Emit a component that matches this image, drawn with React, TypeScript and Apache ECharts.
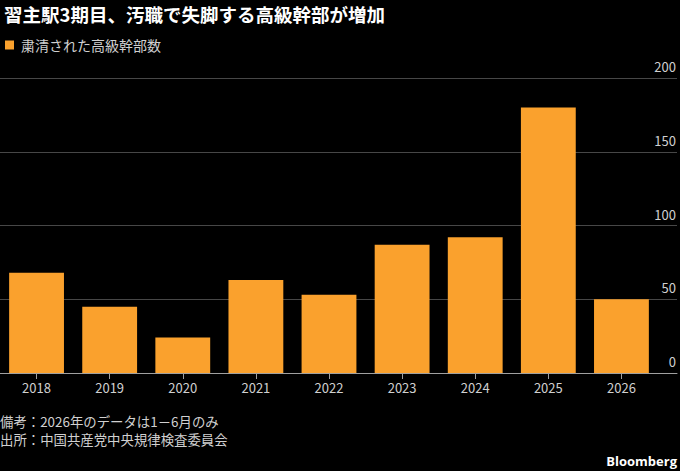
import React, { useEffect, useRef } from "react";
import * as echarts from "echarts";

const years = ["2018", "2019", "2020", "2021", "2022", "2023", "2024", "2025", "2026"];
const purged = [68, 45, 24, 63, 53, 87, 92, 180, 50];
const seriesName = "粛清された高級幹部数";
const titleText = "習主駅3期目、汚職で失脚する高級幹部が増加";
const noteText = "備考：2026年のデータは1－6月のみ";
const sourceText = "出所：中国共産党中央規律検査委員会";
const yMin = 0;
const yMax = 200;
const yInterval = 50;

const FONT = "'Noto Sans CJK JP', 'Noto Sans', sans-serif";

export default function App() {
  const ref = useRef<HTMLDivElement>(null);
  useEffect(() => {
    if (!ref.current) return;
    const chart = echarts.init(ref.current, null, { renderer: "svg" });
    const top = 78;
    const bottom = 98;
    chart.setOption({
      animation: false,
      backgroundColor: "#000000",
      textStyle: { fontFamily: FONT },
      title: {
        text: titleText,
        left: -1,
        top: 0,
        textStyle: { color: "#ffffff", fontSize: 18.5, fontWeight: "bold", fontFamily: FONT },
      },
      legend: {
        left: 0,
        top: 33,
        icon: "rect",
        itemWidth: 9,
        itemHeight: 9,
        itemGap: 10,
        textStyle: { color: "#d0d0d0", fontSize: 14, fontFamily: FONT, padding: [0, 0, 0, 2] },
        data: [seriesName],
      },
      grid: [
        { left: 0, right: 3, top, bottom, containLabel: false },
        { left: -2, right: 22, top, bottom, containLabel: false },
      ],
      xAxis: [
        {
          gridIndex: 0,
          type: "value",
          min: 0,
          max: 1,
          axisLine: { show: true, lineStyle: { color: "#a0a0a0", width: 1 } },
          axisTick: { show: false },
          axisLabel: { show: false },
          splitLine: { show: false },
        },
        {
          gridIndex: 1,
          type: "category",
          data: years,
          axisLine: { show: false },
          axisTick: { show: true, alignWithLabel: true, length: 6, lineStyle: { color: "#a0a0a0" } },
          axisLabel: { color: "#d0d0d0", fontSize: 13, margin: 8, fontFamily: FONT },
          splitLine: { show: false },
        },
      ],
      yAxis: [
        {
          gridIndex: 0,
          type: "value",
          position: "right",
          min: yMin,
          max: yMax,
          interval: yInterval,
          axisLine: { show: false },
          axisTick: { show: false },
          axisLabel: {
            inside: true,
            color: "#d0d0d0",
            fontSize: 13,
            margin: 1,
            verticalAlign: "bottom",
            padding: [0, 0, 5, 0],
            fontFamily: FONT,
          },
          splitLine: { show: true, lineStyle: { color: "#474747", width: 1 } },
        },
        {
          gridIndex: 1,
          type: "value",
          min: yMin,
          max: yMax,
          interval: yInterval,
          show: false,
        },
      ],
      series: [
        {
          name: seriesName,
          type: "bar",
          xAxisIndex: 1,
          yAxisIndex: 1,
          data: purged,
          barCategoryGap: "25%",
          itemStyle: { color: "#FAA12D" },
        },
      ],
      graphic: [
        {
          type: "text",
          left: 0,
          top: 414,
          style: { text: noteText, fill: "#d0d0d0", fontSize: 13.4, fontFamily: FONT },
        },
        {
          type: "text",
          left: 0,
          top: 432,
          style: { text: sourceText, fill: "#d0d0d0", fontSize: 13.4, fontFamily: FONT },
        },
        {
          type: "text",
          right: 3,
          top: 454,
          style: { text: "Bloomberg", fill: "#ffffff", fontSize: 13, fontWeight: "bold", fontFamily: "'Open Sans', 'Noto Sans', sans-serif" },
        },
      ],
    });
    return () => chart.dispose();
  }, []);
  return (
    <div
      ref={ref}
      style={{ position: "absolute", left: 0, top: 0, width: 680, height: 471, background: "#000" }}
    />
  );
}
